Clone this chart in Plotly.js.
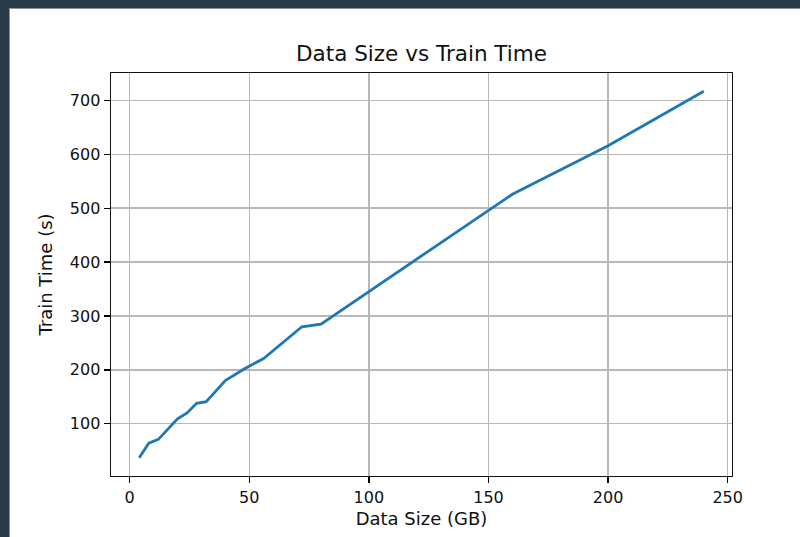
<!DOCTYPE html>
<html>
<head>
<meta charset="utf-8">
<script src="https://cdn.plot.ly/plotly-3.0.1.min.js"></script>
<style>
  html, body { margin: 0; padding: 0; }
  body { width: 800px; height: 537px; background: #2b3a49; position: relative; overflow: hidden; }
  #frame { position: absolute; left: 9px; top: 8px; width: 791px; height: 529px; background: #ffffff; border-left: 1px solid #8a939c; border-top: 1px solid #8a939c; box-sizing: border-box; }
  #chart { position: absolute; left: 0; top: 0; width: 790px; height: 528px; }
</style>
</head>
<body>
<div id="frame"><div id="chart"></div></div>
<script>
// Data
const dataSizeGB = [4, 8, 12, 20, 24, 28, 32, 40, 48, 56, 72, 80, 160, 200, 240];
const trainTimeS = [37, 64, 71, 109, 120, 138, 141, 180, 202, 221, 280, 285, 526, 616, 717];
const xTicks = [0, 50, 100, 150, 200, 250];
const yTicks = [100, 200, 300, 400, 500, 600, 700];

const font = "DejaVu Sans, Liberation Sans, sans-serif";

const trace = {
  x: dataSizeGB,
  y: trainTimeS,
  type: 'scatter',
  mode: 'lines',
  line: { color: '#1f77b4', width: 2.8 },
  hoverinfo: 'none'
};

const layout = {
  width: 790,
  height: 528,
  margin: { l: 101, r: 68, t: 64, b: 61, pad: 0 },
  paper_bgcolor: '#ffffff',
  plot_bgcolor: '#ffffff',
  showlegend: false,
  font: { family: font, color: '#000000', size: 16 },
  title: {
    text: 'Data Size vs Train Time',
    font: { family: font, size: 21.5, color: '#111111' },
    x: 0.5,
    xref: 'paper',
    xanchor: 'center',
    y: 1, yref: 'paper', yanchor: 'bottom',
    pad: { b: 12 }
  },
  xaxis: {
    range: [-7.8, 251.8],
    tickvals: xTicks,
    ticktext: xTicks.map(String),
    ticks: 'outside', ticklen: 6, tickwidth: 1.4, tickcolor: '#000000',
    showgrid: true, gridcolor: '#b8b8b8', gridwidth: 1.5,
    zeroline: false,
    showline: true, linecolor: '#111111', linewidth: 1.4, mirror: true,
    tickfont: { family: font, size: 16, color: '#111111' },
    title: { text: 'Data Size (GB)', font: { family: font, size: 18, color: '#111111' }, standoff: 7 },
    automargin: false
  },
  yaxis: {
    range: [3, 751],
    tickvals: yTicks,
    ticktext: yTicks.map(String),
    ticks: 'outside', ticklen: 6, tickwidth: 1.4, tickcolor: '#000000',
    showgrid: true, gridcolor: '#b8b8b8', gridwidth: 1.5,
    zeroline: false,
    showline: true, linecolor: '#111111', linewidth: 1.4, mirror: true,
    tickfont: { family: font, size: 16, color: '#111111' },
    title: { text: 'Train Time (s)', font: { family: font, size: 18, color: '#111111' }, standoff: 12 },
    automargin: false
  }
};

Plotly.newPlot('chart', [trace], layout, { displayModeBar: false, staticPlot: true });
</script>
</body>
</html>
